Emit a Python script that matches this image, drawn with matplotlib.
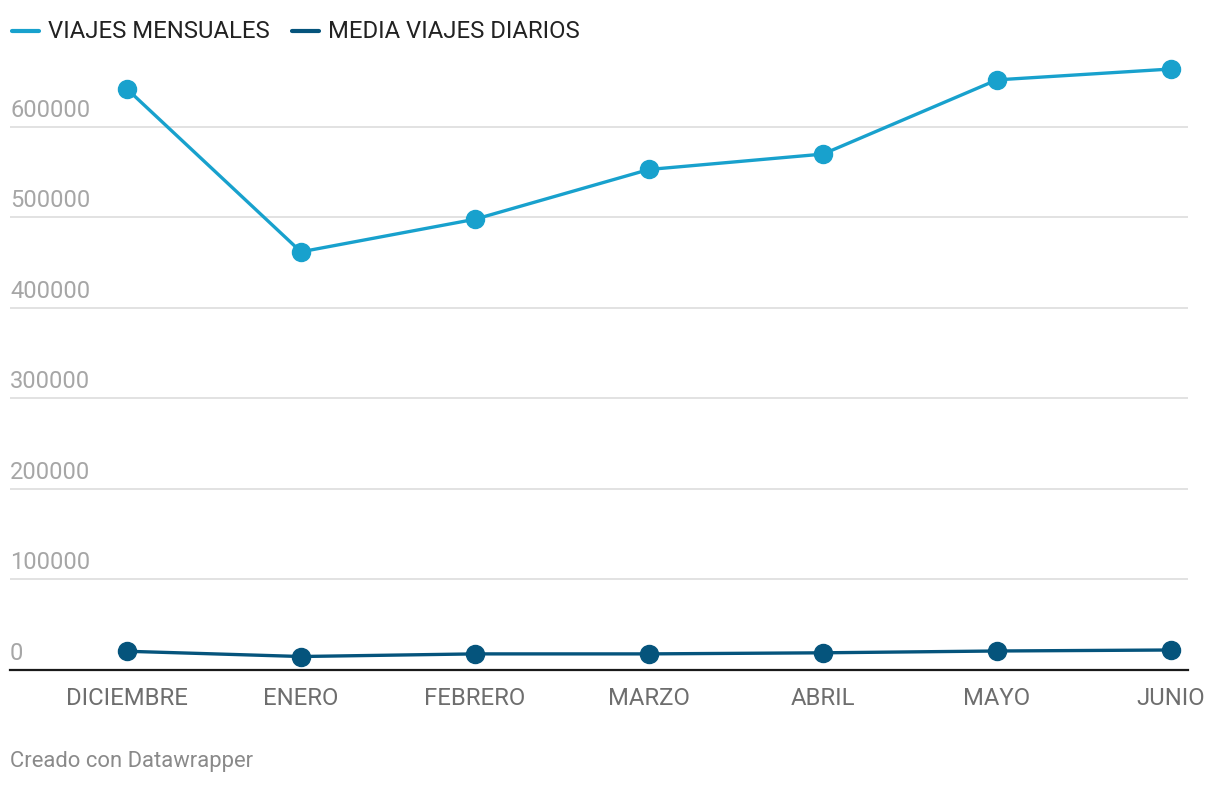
import matplotlib
matplotlib.use("Agg")
import matplotlib.pyplot as plt
from matplotlib.lines import Line2D
import matplotlib.transforms as mtransforms

plt.rcParams['font.family'] = ['Roboto', 'DejaVu Sans']

# data
meses = ["DICIEMBRE", "ENERO", "FEBRERO", "MARZO", "ABRIL", "MAYO", "JUNIO"]
viajes_mensuales = [642000, 462000, 498000, 553000, 570000, 652000, 664000]
media_diarios = [20700, 14900, 17800, 17800, 19000, 21000, 22100]
y_ticks = [0, 100000, 200000, 300000, 400000, 500000, 600000]

c_light = "#18a1cd"
c_dark = "#05547c"

W, H = 1220, 786
fig = plt.figure(figsize=(W / 100, H / 100), dpi=100)
fig.patch.set_facecolor("white")

ax = fig.add_axes([10 / W, (H - 670) / H, (1188 - 10) / W, (670 - 50) / H])
x = list(range(len(meses)))

ax.plot(x, viajes_mensuales, color=c_light, lw=2.4, marker="o", ms=13, zorder=3,
        solid_capstyle="round")
ax.plot(x, media_diarios, color=c_dark, lw=2.4, marker="o", ms=13, zorder=3,
        solid_capstyle="round")

ax.set_xlim(-0.672, 6.098)
ax.set_ylim(0, 685000)

# grid + y labels sitting above gridlines
for v in y_ticks:
    if v > 0:
        ax.axhline(v, color="#e2e2e2", lw=1.4, zorder=1)
trans = mtransforms.blended_transform_factory(ax.transAxes, ax.transData)
offset = mtransforms.ScaledTranslation(0, 5 / 100, fig.dpi_scale_trans)
for v in y_ticks:
    ax.text(0, v, str(v), transform=trans + offset, ha="left", va="bottom",
            fontsize=17, color="#a6a6a6")
ax.axhline(0, color="#1a1a1a", lw=1.6, zorder=2, clip_on=False)

ax.set_yticks([])
ax.set_xticks(x)
ax.set_xticklabels(meses, fontsize=17.2, color="#6e6e6e")
ax.tick_params(axis="x", length=0, pad=12)
for s in ax.spines.values():
    s.set_visible(False)

# legend drawn by hand
def legend_item(x0, label, color):
    yl = 1 - 31 / H
    fig.add_artist(Line2D([x0 / W, (x0 + 27) / W], [yl, yl], color=color, lw=3,
                          solid_capstyle="round", transform=fig.transFigure))
    fig.text((x0 + 36) / W, yl - 1 / H, label, ha="left", va="center", fontsize=17.2,
             color="#222222")

legend_item(12, "VIAJES MENSUALES", c_light)
legend_item(292, "MEDIA VIAJES DIARIOS", c_dark)

fig.text(10 / W, 1 - 762 / H, "Creado con Datawrapper", ha="left", va="center",
         fontsize=15.8, color="#8a8a8a")

fig.savefig("out.png", dpi=100, facecolor="white")
